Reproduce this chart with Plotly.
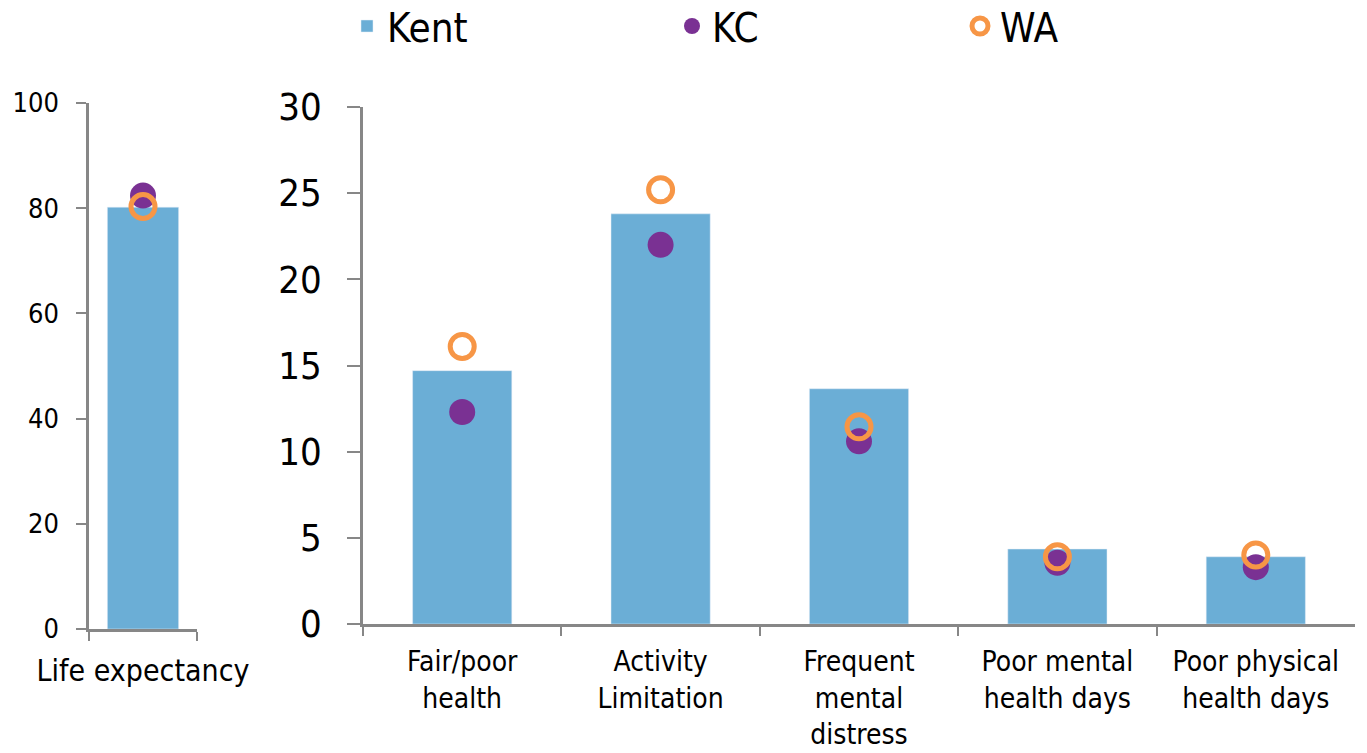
import plotly.graph_objects as go

# ---- data ----
life_cat = ["Life expectancy"]
life_kent = [80.2]
life_kc = [82.4]
life_wa = [80.3]

categories = ["Fair/poor<br>health", "Activity<br>Limitation", "Frequent<br>mental<br>distress",
              "Poor mental<br>health days", "Poor physical<br>health days"]
kent = [14.7, 23.8, 13.65, 4.35, 3.9]
kc = [12.3, 22.0, 10.6, 3.55, 3.3]
wa = [16.1, 25.2, 11.45, 3.9, 4.0]

BLUE = "#6BAED6"
PURPLE = "#7A3193"
ORANGE = "#F79646"
AXIS = "#878787"
FONT = "DejaVu Sans Condensed, DejaVu Sans"

W, H = 1367, 753

fig = go.Figure()

# left panel
fig.add_trace(go.Bar(x=life_cat, y=life_kent, name="Kent", marker_color=BLUE, width=0.66,
                     xaxis="x", yaxis="y", showlegend=False, legend="legend"))
fig.add_trace(go.Scatter(x=life_cat, y=life_kc, name="KC", mode="markers",
                         marker=dict(color=PURPLE, size=26), xaxis="x", yaxis="y",
                         showlegend=False, legend="legend2"))
fig.add_trace(go.Scatter(x=life_cat, y=life_wa, name="WA", mode="markers",
                         marker=dict(symbol="circle-open", color=ORANGE, size=24, line=dict(width=5, color=ORANGE)),
                         xaxis="x", yaxis="y", showlegend=False, legend="legend3"))

# right panel
fig.add_trace(go.Bar(x=categories, y=kent, name="Kent", marker_color=BLUE, width=0.5,
                     xaxis="x2", yaxis="y2", showlegend=True, legend="legend"))
fig.add_trace(go.Scatter(x=categories, y=kc, name="KC", mode="markers",
                         marker=dict(color=PURPLE, size=26), xaxis="x2", yaxis="y2",
                         showlegend=True, legend="legend2"))
fig.add_trace(go.Scatter(x=categories, y=wa, name="WA", mode="markers",
                         marker=dict(symbol="circle-open", color=ORANGE, size=24, line=dict(width=5, color=ORANGE)),
                         xaxis="x2", yaxis="y2", showlegend=True, legend="legend3"))

axis_common = dict(showline=True, linecolor=AXIS, linewidth=2.5, showgrid=False, zeroline=False,
                   ticks="outside", tickcolor=AXIS, tickwidth=2, color="#000000", automargin=False)

legend_common = dict(orientation="h", yanchor="middle", xanchor="left", bgcolor="rgba(0,0,0,0)",
                     font=dict(family=FONT, size=40, color="#000000"), itemsizing="trace")

fig.update_layout(
    width=W, height=H,
    margin=dict(l=0, r=0, t=0, b=0, autoexpand=False),
    paper_bgcolor="white", plot_bgcolor="white",
    font=dict(family=FONT, color="#000000"),
    xaxis=dict(domain=[89 / W, 197 / W], anchor="y", type="category", tickson="boundaries",
               tickangle=0, ticklen=9, tickfont=dict(size=30), ticklabelstandoff=13, **axis_common),
    yaxis=dict(domain=[(H - 629) / H, (H - 103) / H], anchor="x", range=[0, 100], dtick=20,
               ticklen=10, tickfont=dict(size=27), ticklabelstandoff=12, **axis_common),
    xaxis2=dict(domain=[363 / W, 1355 / W], anchor="y2", type="category", tickson="boundaries",
                tickangle=0, ticklen=9, tickfont=dict(size=28), ticklabelstandoff=11, **axis_common),
    yaxis2=dict(domain=[(H - 624) / H, (H - 107) / H], anchor="x2", range=[0, 30], dtick=5,
                ticklen=13, tickfont=dict(size=38), ticklabelstandoff=18, **axis_common),
    legend=dict(x=347 / W, y=1 - 26 / H, **legend_common),
    legend2=dict(x=672 / W, y=1 - 26 / H, **legend_common),
    legend3=dict(x=960 / W, y=1 - 26 / H, **legend_common),
)

fig.write_html("out.html", config={"displayModeBar": False},
               post_script="document.body.style.margin='0';")
